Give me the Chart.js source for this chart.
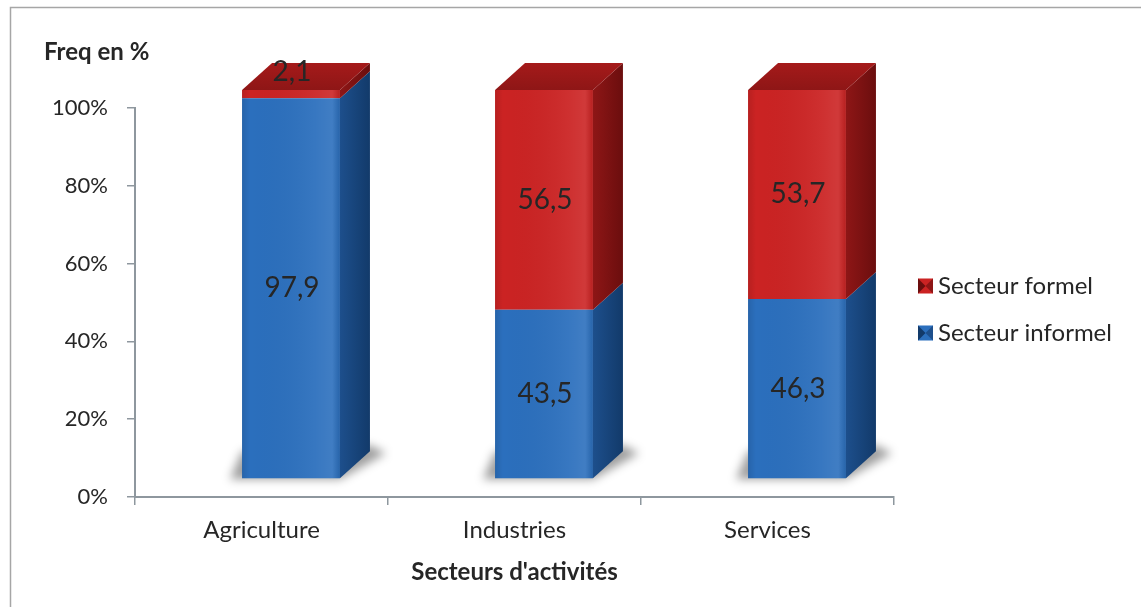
<!DOCTYPE html>
<html>
<head>
<meta charset="utf-8">
<script src="https://cdn.jsdelivr.net/npm/chart.js@4"></script>
<style>
html,body{margin:0;padding:0;background:#fff;}
canvas{display:block;}
</style>
</head>
<body>
<canvas id="c" width="1141" height="607"></canvas>
<script>
const categories = ['Agriculture', 'Industries', 'Services'];
const secteurInformel = [97.9, 43.5, 46.3];
const secteurFormel = [2.1, 56.5, 53.7];
const yTickValues = [0, 20, 40, 60, 80, 100];
const seriesNames = ['Secteur informel', 'Secteur formel'];
const yAxisTitle = 'Freq en %';
const xAxisTitle = "Secteurs d'activités";

const FONT = 'Lato, "Open Sans", sans-serif';
const TEXT = '#262626';
const AXIS = '#8e979e';
const SHIFT_X = 29.5, SHIFT_Y = -18;   // visual 3D offset of bars
const DEP_X = 30, DEP_Y = 27;          // 3D depth

const palette = [
  {front: '#2b6fbd', side1: '#1d4f8c', side2: '#123a6a', top: '#3a7fca'},
  {front: '#cb2323', side1: '#8e1616', side2: '#6b0e0e', top: '#a51a1a'}
];

const fmt = v => v.toFixed(1).replace('.', ',');

const threeD = {
  id: 'threeD',
  beforeDatasetsDraw(chart) {
    const c = chart.ctx;
    c.save();
    c.translate(SHIFT_X, SHIFT_Y);
    const m0 = chart.getDatasetMeta(0);
    m0.data.forEach(el => {
      const w = el.width, l = el.x - w / 2, r = el.x + w / 2, b = el.base;
      c.save();
      c.filter = 'blur(5px)';
      c.fillStyle = 'rgba(0,0,0,0.38)';
      c.beginPath();
      c.moveTo(l - 12, b + 1);
      c.lineTo(r, b + 1);
      c.lineTo(r + DEP_X + 16, b - DEP_Y + 2);
      c.lineTo(r + DEP_X, b - DEP_Y - 6);
      c.lineTo(l, b - DEP_Y);
      c.closePath();
      c.fill();
      c.restore();
    });
  },
  afterDatasetsDraw(chart) {
    const c = chart.ctx;
    const n = chart.data.datasets.length;
    for (let i = 0; i < n; i++) {
      const meta = chart.getDatasetMeta(i);
      const pal = palette[i];
      meta.data.forEach((el, j) => {
        const w = el.width, l = el.x - w / 2, r = el.x + w / 2;
        const top = Math.min(el.y, el.base), bot = Math.max(el.y, el.base);
        if (bot - top < 0.01) return;
        const g = c.createLinearGradient(l, 0, r, 0);
        g.addColorStop(0, 'rgba(0,0,0,0.10)');
        g.addColorStop(0.08, 'rgba(0,0,0,0.0)');
        g.addColorStop(0.75, 'rgba(255,255,255,0.06)');
        g.addColorStop(0.92, 'rgba(255,255,255,0.10)');
        g.addColorStop(1, 'rgba(0,0,0,0.10)');
        c.fillStyle = g;
        c.fillRect(l, top, w, bot - top);
        const sg = c.createLinearGradient(r, 0, r + DEP_X, 0);
        sg.addColorStop(0, pal.side1);
        sg.addColorStop(1, pal.side2);
        c.fillStyle = sg;
        c.beginPath();
        c.moveTo(r, top);
        c.lineTo(r + DEP_X, top - DEP_Y);
        c.lineTo(r + DEP_X, bot - DEP_Y);
        c.lineTo(r, bot);
        c.closePath();
        c.fill();
        let isTop = true;
        for (let k = i + 1; k < n; k++) {
          if (chart.data.datasets[k].data[j] > 0) isTop = false;
        }
        if (isTop) {
          const tg = c.createLinearGradient(0, top - DEP_Y, 0, top);
          tg.addColorStop(0, pal.top);
          tg.addColorStop(1, pal.side1);
          c.fillStyle = tg;
          c.beginPath();
          c.moveTo(l, top);
          c.lineTo(l + DEP_X, top - DEP_Y);
          c.lineTo(r + DEP_X, top - DEP_Y);
          c.lineTo(r, top);
          c.closePath();
          c.fill();
        }
      });
    }
    c.restore();
    c.save();
    c.font = '28px ' + FONT;
    c.fillStyle = TEXT;
    c.textAlign = 'center';
    c.textBaseline = 'middle';
    for (let i = 0; i < n; i++) {
      const meta = chart.getDatasetMeta(i);
      const ds = chart.data.datasets[i];
      meta.data.forEach((el, j) => {
        const v = ds.data[j];
        const top = Math.min(el.y, el.base), bot = Math.max(el.y, el.base);
        let y = (top + bot) / 2;
        if (bot - top < 24) y = top - 18;
        c.fillText(fmt(v), el.x + SHIFT_X + 1, y + SHIFT_Y);
      });
    }
    c.restore();
  },
  afterDraw(chart) {
    const c = chart.ctx;
    c.save();
    c.strokeStyle = '#a6a6a6';
    c.lineWidth = 1.5;
    c.strokeRect(10.5, 7.5, 1200, 700);
    c.font = 'bold 24px ' + FONT;
    c.fillStyle = TEXT;
    c.textBaseline = 'middle';
    c.textAlign = 'left';
    c.fillText(yAxisTitle, 44, 52);
    const items = [1, 0];
    c.font = '24px ' + FONT;
    items.forEach((di, k) => {
      const y = 286 + k * 47;
      const x = 918;
      const s = 15;
      const pal = palette[di];
      c.fillStyle = pal.front;
      c.fillRect(x, y - s / 2, s, s);
      c.fillStyle = pal.side2;
      c.beginPath(); c.moveTo(x, y - s / 2); c.lineTo(x + s / 2, y); c.lineTo(x, y + s / 2); c.closePath(); c.fill();
      c.fillStyle = pal.side1;
      c.beginPath(); c.moveTo(x + s, y - s / 2); c.lineTo(x + s / 2, y); c.lineTo(x + s, y + s / 2); c.closePath(); c.fill();
      c.fillStyle = TEXT;
      c.fillText(seriesNames[di], x + s + 5, y);
    });
    c.restore();
  }
};

new Chart(document.getElementById('c'), {
  type: 'bar',
  data: {
    labels: categories,
    datasets: [
      {label: seriesNames[0], data: secteurInformel, backgroundColor: palette[0].front, borderWidth: 0},
      {label: seriesNames[1], data: secteurFormel, backgroundColor: palette[1].front, borderWidth: 0}
    ]
  },
  options: {
    responsive: false,
    animation: false,
    devicePixelRatio: 1,
    layout: {padding: {left: 0, top: 108, right: 247, bottom: 0}},
    datasets: {bar: {barPercentage: 0.387, categoryPercentage: 1}},
    plugins: {legend: {display: false}, tooltip: {enabled: false}, title: {display: false}},
    scales: {
      x: {
        stacked: true,
        offset: true,
        grid: {display: true, drawOnChartArea: false, offset: true, tickLength: 8, color: AXIS, lineWidth: 1.5},
        border: {display: true, color: AXIS, width: 2},
        ticks: {color: TEXT, font: {family: FONT, size: 24}, padding: 11},
        title: {display: true, text: xAxisTitle, color: TEXT, font: {family: FONT, size: 24, weight: 'bold'}, padding: {top: 10, bottom: 20}},
        afterFit(scale) { scale.height = 607 - 497; }
      },
      y: {
        stacked: true,
        min: 0,
        max: 100,
        afterBuildTicks(scale) { scale.ticks = yTickValues.map(v => ({value: v})); },
        grid: {display: true, drawOnChartArea: false, tickLength: 8, color: AXIS, lineWidth: 1.5},
        border: {display: true, color: AXIS, width: 2},
        ticks: {color: TEXT, font: {family: FONT, size: 22}, padding: 19, callback: v => v + '%'},
        afterFit(scale) { scale.width = 135; }
      }
    }
  },
  plugins: [threeD]
});
</script>
</body>
</html>
